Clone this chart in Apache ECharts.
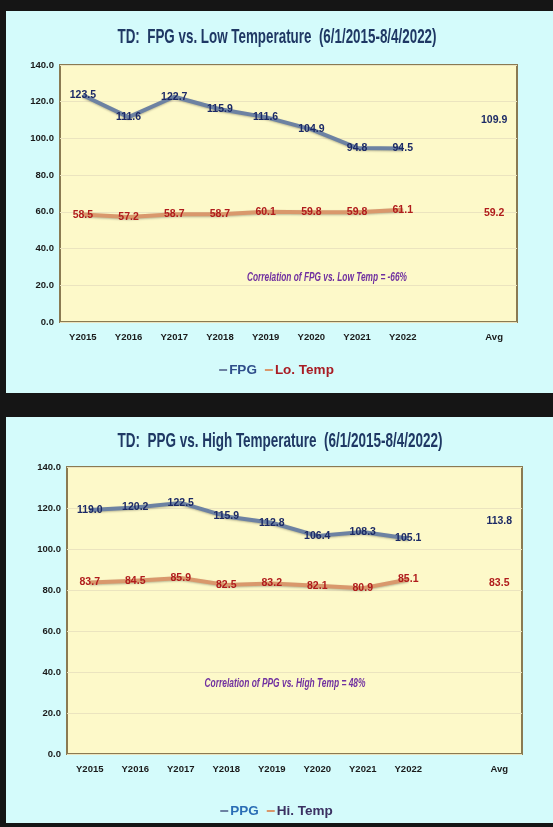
<!DOCTYPE html>
<html>
<head>
<meta charset="utf-8">
<script src="https://cdn.jsdelivr.net/npm/echarts@6/dist/echarts.min.js"></script>
<style>
html,body{margin:0;padding:0;background:#151515;}
#c{width:553px;height:827px;}
</style>
</head>
<body>
<div id="c"></div>
<script>
// ---- data ----
const categories = ['Y2015','Y2016','Y2017','Y2018','Y2019','Y2020','Y2021','Y2022','','Avg'];
const fpg      = [123.5, 111.6, 122.7, 115.9, 111.6, 104.9, 94.8, 94.5, '-', 109.9];
const lowTemp  = [58.5, 57.2, 58.7, 58.7, 60.1, 59.8, 59.8, 61.1, '-', 59.2];
const ppg      = [119.0, 120.2, 122.5, 115.9, 112.8, 106.4, 108.3, 105.1, '-', 113.8];
const highTemp = [83.7, 84.5, 85.9, 82.5, 83.2, 82.1, 80.9, 85.1, '-', 83.5];
const yTicks = {min: 0, max: 140, interval: 20};
const title1 = 'TD:  FPG vs. Low Temperature  (6/1/2015-8/4/2022)';
const title2 = 'TD:  PPG vs. High Temperature  (6/1/2015-8/4/2022)';
const corr1 = 'Correlation of FPG vs. Low Temp = -66%';
const corr2 = 'Correlation of PPG vs. High Temp = 48%';

const FONT = "'Liberation Sans','Arial',sans-serif";
const SLIDE = '#d4fbfb', PLOT = '#fdf9c9', BORDER = '#8a7a52';
const BLUE_LINE = '#6d82a2', BLUE_LBL = '#1c2a66';
const ORG_LINE = '#d9986c', RED_LBL = '#b01c1c';

const mctx = document.createElement('canvas').getContext('2d');
function fitScale(text, font, targetW){ mctx.font = font; return targetW / mctx.measureText(text).width; }

const TITLE_FONT = "bold 21px " + FONT;
const CORR_FONT = "italic bold 13px " + FONT;

const chart = echarts.init(document.getElementById('c'), null, {renderer:'canvas'});

function xAxis(gi){
  return {gridIndex: gi, type:'category', data: categories, boundaryGap: true,
    axisLine:{show:false}, axisTick:{show:false},
    axisLabel:{color:'#1a1a1a', fontFamily:FONT, fontWeight:'bold', fontSize:9.5, margin:10, interval:0}};
}
function yAxis(gi){
  return {gridIndex: gi, type:'value', min:yTicks.min, max:yTicks.max, interval:yTicks.interval,
    axisLine:{show:false}, axisTick:{show:false},
    splitLine:{lineStyle:{color:'#ebe4bf', width:1}},
    axisLabel:{color:'#1a1a1a', fontFamily:FONT, fontWeight:'bold', fontSize:9.5, margin:6,
      formatter: v => v.toFixed(1)}};
}
function lineSeries(name, data, gi, lineColor, lblColor){
  return {name, type:'line', xAxisIndex:gi, yAxisIndex:gi, data,
    symbol:'circle', symbolSize:1, connectNulls:false,
    itemStyle:{color:lineColor},
    lineStyle:{color:lineColor, width:4, shadowColor:'rgba(0,0,0,0.25)', shadowBlur:2, shadowOffsetY:1},
    label:{show:true, position:'inside', color:lblColor, fontFamily:FONT, fontWeight:'bold', fontSize:10.5,
      formatter: p => Number(p.value).toFixed(1)},
    emphasis:{disabled:true}, z:3};
}
function scaledText(text, font, color, x, y, w){
  return {type:'text', x, y, scaleX: fitScale(text, font, w), z:5,
    style:{text, fill:color, font, align:'center', verticalAlign:'middle'}};
}

chart.setOption({
  animation:false,
  backgroundColor:'#151515',
  graphic:[
    {type:'rect', shape:{x:6, y:11, width:547, height:382}, style:{fill:SLIDE}, z:-10},
    {type:'rect', shape:{x:6, y:417, width:547, height:406}, style:{fill:SLIDE}, z:-10},
    scaledText(title1, TITLE_FONT, '#1f3864', 277, 37, 319),
    scaledText(title2, TITLE_FONT, '#1f3864', 280, 441, 325),
    scaledText(corr1, CORR_FONT, '#7030a0', 327, 277, 160),
    scaledText(corr2, CORR_FONT, '#7030a0', 285, 683, 161)
  ],
  grid:[
    {left:60, top:65, width:457, height:257, show:true, backgroundColor:PLOT, borderColor:BORDER, borderWidth:2},
    {left:67, top:467, width:455, height:287, show:true, backgroundColor:PLOT, borderColor:BORDER, borderWidth:2}
  ],
  legend:[
    {top:358, left:'center', icon:'rect', itemWidth:8, itemHeight:2, itemGap:8,
     textStyle:{fontFamily:FONT, fontSize:13.5, fontWeight:'bold', padding:[0,0,0,-3]},
     data:[{name:'FPG', textStyle:{color:'#2e4d8a'}}, {name:'Lo. Temp', textStyle:{color:'#a81c24'}}]},
    {top:799, left:'center', icon:'rect', itemWidth:8, itemHeight:2, itemGap:8,
     textStyle:{fontFamily:FONT, fontSize:13.5, fontWeight:'bold', padding:[0,0,0,-3]},
     data:[{name:'PPG', textStyle:{color:'#2a6db5'}}, {name:'Hi. Temp', textStyle:{color:'#3b3162'}}]}
  ],
  xAxis:[xAxis(0), xAxis(1)],
  yAxis:[yAxis(0), yAxis(1)],
  series:[
    lineSeries('FPG', fpg, 0, BLUE_LINE, BLUE_LBL),
    lineSeries('Lo. Temp', lowTemp, 0, ORG_LINE, RED_LBL),
    lineSeries('PPG', ppg, 1, BLUE_LINE, BLUE_LBL),
    lineSeries('Hi. Temp', highTemp, 1, ORG_LINE, RED_LBL)
  ]
});
</script>
</body>
</html>
